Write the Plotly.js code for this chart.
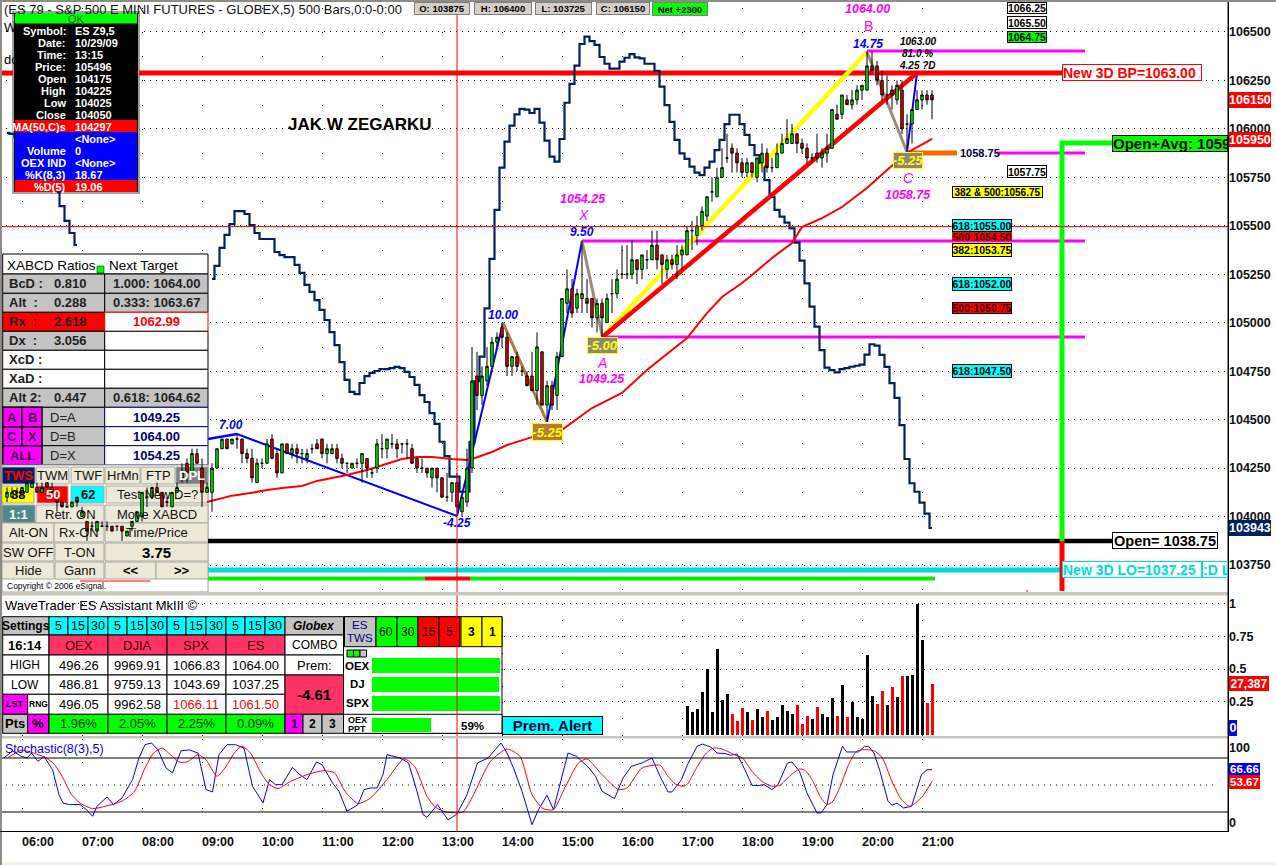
<!DOCTYPE html>
<html><head><meta charset="utf-8">
<script src="https://cdn.plot.ly/plotly-3.0.1.min.js"></script>
<style>html,body{margin:0;padding:0;background:#fff;overflow:hidden}#c{width:1276px;height:865px}</style>
</head><body><div id="c"></div>
<script>
// ---------- data: bar number 0 = 06:00, one bar = 5 minutes ----------
const firstCandleBar=-3;
const candleOpen=[104100,104100,104125,104125,104125,104150,104150,104125,104175,104150,
104100,104075,104050,104050,104100,104000,103975,103950,103925,103950,
103950,103950,103950,103950,103900,103950,103975,104000,104100,104100,
104150,104125,104075,104050,104125,104200,104275,104225,104325,104250,
104125,104125,104250,104350,104400,104375,104400,104400,104325,104300,
104175,104275,104275,104400,104325,104225,104375,104325,104350,104325,
104300,104350,104375,104400,104325,104325,104350,104300,104275,104250,
104275,104275,104300,104225,104250,104350,104350,104375,104375,104375,
104375,104350,104300,104250,104250,104200,104250,104200,104100,104125,
104175,104025,104075,104250,104725,104625,104700,104775,104900,104975,
104925,104775,104825,104750,104725,104725,104650,104850,104575,104675,
104625,104825,105100,105175,105075,105125,105125,105125,105025,105100,
105000,105150,105150,105250,105250,105250,105325,105275,105325,105325,
105400,105350,105275,105325,105300,105350,105350,105475,105450,105500,
105550,105675,105650,105750,105850,105900,105875,105825,105775,105825,
105750,105825,105875,105800,105800,105875,105925,105925,105975,105925,
105900,105850,105875,105850,105875,105900,106075,106075,106150,106125,
106150,106200,106200,106325,106325,106250,106175,106200,106150,106200,
106025,106025,106100,106150,106175,106175];
const candleHigh=[104150,104150,104150,104150,104175,104175,104175,104175,104175,104175,
104100,104075,104075,104075,104100,104050,103975,103975,103975,103975,
103975,103950,103950,103950,103925,103975,104025,104125,104150,104150,
104175,104125,104100,104125,104175,104275,104300,104350,104350,104300,
104175,104275,104350,104400,104400,104400,104425,104400,104350,104350,
104300,104300,104400,104425,104350,104375,104375,104375,104375,104350,
104350,104375,104400,104400,104375,104375,104375,104325,104275,104275,
104300,104325,104300,104250,104400,104425,104400,104425,104400,104375,
104400,104375,104300,104300,104250,104250,104250,104200,104225,104175,
104225,104100,104350,104875,104850,104775,104875,104925,104950,105000,
104950,104825,104850,104775,104750,104850,104950,104850,104700,104700,
104850,105125,105275,105225,105175,105425,105225,105125,105125,105125,
105150,105225,105275,105400,105400,105425,105325,105350,105375,105475,
105475,105350,105350,105350,105400,105400,105500,105525,105550,105600,
105650,105750,105800,105900,105975,105925,105900,105850,105850,105825,
105850,105925,105900,105850,105925,105975,106050,106025,105975,105950,
105925,105875,105975,105900,105975,106100,106125,106175,106175,106200,
106225,106225,106400,106400,106350,106300,106275,106225,106250,106250,
106075,106100,106200,106200,106200,106200];
const candleLow=[104075,104100,104100,104100,104125,104150,104125,104125,104150,104125,
104025,104050,104050,104050,104050,104000,103875,103925,103925,103950,
103925,103925,103925,103875,103900,103925,103975,103975,104050,104100,
104125,104050,104050,104050,104125,104175,104175,104225,104275,104050,
104125,104025,104250,104350,104350,104375,104350,104275,104275,104175,
104175,104250,104275,104300,104200,104225,104325,104300,104275,104275,
104275,104325,104350,104300,104275,104325,104275,104250,104225,104250,
104250,104175,104200,104200,104225,104300,104300,104350,104300,104325,
104300,104275,104225,104225,104200,104150,104125,104100,104075,104075,
104025,104000,104050,104225,104550,104575,104675,104775,104875,104875,
104725,104725,104750,104725,104675,104650,104575,104575,104500,104550,
104550,104825,105050,105025,105050,105050,105050,104975,104950,104925,
105000,105050,105125,105225,105225,105225,105200,105225,105275,105325,
105275,105200,105225,105275,105225,105275,105350,105375,105400,105475,
105525,105625,105650,105750,105825,105775,105775,105750,105750,105750,
105725,105775,105775,105775,105800,105875,105925,105925,105875,105875,
105825,105825,105825,105800,105825,105900,106050,106050,106125,106100,
106125,106150,106200,106300,106225,106150,106125,106100,106125,105975,
105900,105925,106100,106100,106125,106050];
const candleClose=[104125,104125,104125,104150,104175,104175,104125,104150,104150,104125,
104075,104050,104050,104075,104075,104025,103925,103950,103975,103950,
103950,103925,103950,103925,103925,103975,104025,104125,104100,104150,
104125,104050,104075,104125,104150,104225,104225,104325,104275,104125,
104150,104250,104350,104400,104350,104400,104400,104325,104300,104200,
104275,104275,104375,104300,104225,104375,104325,104350,104325,104325,
104325,104350,104350,104325,104350,104350,104300,104275,104275,104275,
104275,104325,104250,104225,104375,104350,104400,104375,104350,104375,
104375,104275,104250,104250,104225,104250,104200,104100,104100,104175,
104050,104100,104250,104700,104625,104725,104775,104900,104925,104925,
104775,104825,104775,104750,104675,104650,104875,104575,104675,104575,
104825,105125,105175,105050,105150,105150,105100,105025,105100,105025,
105125,105150,105225,105250,105250,105325,105275,105350,105325,105400,
105325,105300,105325,105300,105350,105375,105475,105475,105500,105575,
105650,105675,105750,105800,105850,105875,105825,105775,105825,105775,
105850,105875,105800,105800,105875,105925,105950,105975,105925,105900,
105850,105850,105850,105875,105900,106100,106050,106175,106125,106150,
106200,106225,106325,106300,106250,106175,106175,106175,106225,106000,
106025,106100,106150,106175,106150,106150];

const navyStart=-3;
const navyPrice=[105979,105974,105959,null,null,null,null,null,null,null,105674,105602,105526,105463,105401,
null,null,null,null,null,null,null,null,null,null,null,null,null,null,null,null,null,null,null,null,null,null,null,null,null,null,
105226,105293,105386,105453,105509,105576,105576,105561,105504,105463,105432,105432,105432,105365,105349,105339,105339,105298,105257,
105195,105159,105117,105066,105014,104952,104885,104797,104705,104643,104632,104689,104725,104741,104751,104761,104761,104766,104772,104766,
104746,104720,104679,104627,104591,104534,104478,104386,104312,104206,104206,104128,104128,104385,104699,104825,105074,105329,
105582,105800,105934,106017,106075,106103,106099,106082,106103,106032,105939,105857,105831,105948,106135,106232,106326,106438,106476,106453,
106433,106371,106336,106311,106311,106347,106367,106386,106369,106364,106336,106336,106300,106218,106123,106036,105943,105874,105845,105805,
105774,105762,105800,105831,105891,105943,106025,106073,106073,106025,105969,105917,105865,105824,105736,105649,105582,105547,105516,105487,
105413,105320,105203,105083,104980,104859,104768,104756,104744,104761,104766,104773,104778,104784,104835,104889,104882,104834,104772,104688,
104612,104472,104297,104172,104128,104072,104015,103941];

const maBars=[37,40,42,46,49,52,56,59,62,65,69,72,76,79,82,86,89,90,94,97,102,108,114,120,125,130,133,137,140,144,146,150,154,156,160,164,169,173,177,182];
const maPrice=[104075,104096,104108,104123,104137,104147,104158,104184,104199,104214,104240,104266,104297,104307,104307,104297,104292,104297,104333,104369,104410,104447,104560,104638,104756,104859,104921,105050,105133,105205,105246,105334,105411,105494,105540,105597,105695,105788,105876,105948];

const pivotBars=[37.2,43,87,96.2,105,112,116.1,169,177,179];
const pivotPrices=[104400,104426,104003,105000,104488,105422,104926,106397,105881,106288];

const volStart=133;
const volumeValues=[.214,.171,.191,.321,.497,.171,.65,.26,.306,.153,.1,.2,.171,.107,.191,.13,.176,.107,.13,.222,.176,.16,.222,.077,.138,.122,.207,.153,.13,.276,.145,.375,.13,.245,.13,.122,.605,.291,.23,.329,.222,.36,.283,.444,.444,.452,1,.72,.24,.383];
const volumeSides=['k','k','k','k','k','k','k','k','k','r','r','r','k','r','k','k','r','k','k','k','k','k','r','r','r','k','r','k','k','k','r','k','r','k','k','k','k','k','r','r','k','r','k','r','k','k','k','k','r','r'];

const kBars=[-3.6,-1.9,-.2,1,1.9,3.2,4.4,6.1,7.4,8.2,9.5,11.6,12.9,14.1,15,17,18.3,20,22.1,23.4,24.6,25.9,27.2,28.8,30.1,31.8,33.5,35.2,36.8,38.1,39.4,41,42.7,44.4,46.1,48.2,49.5,50.7,52,54.1,55.4,57,58.9,60,62.1,63.4,65,67.2,68.4,69.7,71,72.2,73,75.6,77.3,79,80.2,81,83.1,85.2,87,89,91.1,93.2,95.8,97,98.3,100,102,103.3,105,106.3,109.2,110.9,113.4,114.7,116,118.5,120.2,121.9,124,126,127.6,129.2,130,131.9,133.1,135,136.1,137.8,139,140.6,141.7,143,144.1,146,147.2,148.4,150,151.2,153.1,154,155.5,157,159,159.8,161,162.2,164.1,164.9,167.3,168.5,169.3,170.4,171.6,173.2,174,175,176.3,177.9,179.9,181,182];
const kValues=[80,88,81.9,80,85.5,76.3,81.9,67,39.3,30,28.2,28.2,22.6,15.3,26.3,36.7,28.2,35.6,56,80,94.8,96.7,89,68.9,63.4,88,89,85.5,44.9,42.3,83.7,94.8,94.8,91,48.6,30,56,50.4,50.4,69.6,62.2,56,75.6,72.6,52.3,43,20.8,28.2,44.9,46.7,46.7,61.5,83.7,80,74.5,43,17.1,14.1,28.2,11.2,17.8,39.3,74.5,80,96.7,85.5,68.9,43,6,22.6,38.6,22.6,85.5,81.9,68.9,59.7,43,34.9,57.8,70.8,74.5,80,59.7,42.3,42.3,56,72.6,93,95.5,92,85.5,85,83,84.4,72.6,49.7,49.3,50.4,44.9,50.4,74.5,75.6,65.2,41,19,19,28.2,61.5,93,86.7,86.7,93,93,85.5,65.2,32,27.5,30,24.5,26.3,61.5,67,67];
const dBars=[-2.7,-.2,2.3,4.9,6.5,8.2,9.9,11.6,14.1,16.6,20,22.5,24.6,26.3,28,29.7,31.4,33,35.2,36.8,39,40.6,42.7,44,45.7,47.8,49.5,51.2,53.7,57,60.4,62.5,64.6,67.2,69.7,73,76.4,78.5,81,82.7,84.8,88.2,90.3,93.7,97,99.6,102,104.2,106.3,108.4,111.3,113,116,119.3,121,124,127.6,129.2,130.7,132.2,133.1,134.7,136.6,138.2,139.8,142.5,144.1,146,148,150,151.6,153.5,155.5,156.7,158.2,159.8,161,162.2,163.8,165.3,166.9,168.5,170.4,172,174,175.9,177.5,178.7,180.2,182];
const dValues=[80.7,88.5,85.5,80,72.6,57.8,39.3,30,23.8,26.3,32,43,68.9,85.5,91,83.7,75.6,75.6,83.7,78,59.7,68.9,87.4,93,85.5,63.4,50.4,46,54,61.5,66,63.4,43,29.3,35.6,56,79,70.8,37.4,25.2,20,20,39.3,76.3,90,81.9,39.3,23.8,22.6,44.9,74.5,79,61.5,44.9,46.7,68.9,71.9,59.7,51,48.6,51,67,83.7,91,90.4,83.7,80,65.2,54,48.6,49.7,59.7,67.8,66,54,35.6,28.2,32,50.4,72.6,87.4,89.3,88,80.7,54,33.7,26.3,30,38,54];

const hourBars=[0,12,24,36,48,60,72,84,96,108,120,132,144,156,168,180];
const hourLabels=['06:00','07:00','08:00','09:00','10:00','11:00','12:00','13:00','14:00','15:00','16:00','17:00','18:00','19:00','20:00','21:00'];
const priceTicks=[103750,104000,104250,104500,104750,105000,105250,105500,105750,106000,106250,106500];

const cursorBar=87, cursorPrice=105496;
const bpLevel=106288, openLevel=103874, lo3dLevel=103724, openAvgLevel=105927, stripLevel=103680;
const magentaStart=[112,116.1,169,195], magentaLevels=[105422,104926,106402,105876], magentaEnd=212.6;
const orangeBars=[177,187];

const okLabels=['Symbol:','Date:','Time:','Price:','Open','High','Low','Close','MA(50,C)s','','Volume','OEX IND','%K(8,3)','%D(5)'];
const okValues=['ES Z9,5','10/29/09','13:15','105496','104175','104225','104025','104050','104297','<None>','0','<None>','18.67','19.06'];

const waveHeads=['OEX','DJIA','SPX','ES'];
const waveHigh=['496.26','9969.91','1066.83','1064.00'];
const waveLow=['486.81','9759.13','1043.69','1037.25'];
const waveLast=['496.05','9962.58','1066.11','1061.50'];
const wavePct=['1.96%','2.05%','2.25%','0.09%'];
const xabcdRows=[['BcD :','0.810','1.000: 1064.00'],['Alt  :','0.288','0.333: 1063.67'],['Rx  :','2.618','1062.99'],['Dx  :','3.056',''],['XcD :','',''],['XaD :','',''],['Alt 2:','0.447','0.618: 1064.62']];
const xabcdTargets=[['D=A','1049.25'],['D=B','1064.00'],['D=X','1054.25']];

// ---------- page geometry helpers (chrome only) ----------
const PW=1228,PH=865;
const barAt=px=>(px-22)/5;
const priceAt=py=>106665-py*5.159;
const volAt=py=>(734.5-py)/131;
const stochAt=py=>(830-py)/0.9;
const dom=(a,b)=>[1-b/PH,1-a/PH];
const S=[],A=[];
const SANS='Liberation Sans',NARROW='Liberation Sans';
function cell(x0,y0,x1,y1,fill,line,lw){
  const main=y1<=592;
  S.push({type:'rect',layer:'between',xref:main?'x':'x2',yref:main?'y':'y2',x0:barAt(x0),x1:barAt(x1),
    y0:main?priceAt(y0):volAt(y0),y1:main?priceAt(y1):volAt(y1),
    fillcolor:fill,line:{color:line||fill,width:lw===undefined?1:lw}});
}
function T(px,py,text,o){o=o||{};
  let t=text; if(o.b)t='<b>'+t+'</b>'; if(o.i)t='<i>'+t+'</i>';
  A.push({xref:'paper',yref:'paper',x:px/PW,y:1-py/PH,xanchor:o.a||'center',yanchor:'middle',text:t,showarrow:false,
    font:{family:o.f||SANS,size:o.s||12,color:o.c||'#000'}});
}
function B(x0,y0,x1,y1,text,o){o=o||{};const bw=o.bw===undefined?1:o.bw;
  let t=text; if(o.b)t='<b>'+t+'</b>'; if(o.i)t='<i>'+t+'</i>';
  A.push({xref:'paper',yref:'paper',x:x0/PW,y:1-y0/PH,xanchor:'left',yanchor:'top',width:x1-x0-2*bw,height:y1-y0-2*bw,
    text:t,showarrow:false,align:o.al||'center',valign:'middle',borderpad:0,borderwidth:bw,bordercolor:o.bc||'#000',bgcolor:o.bg||'#fff',
    font:{family:o.f||SANS,size:o.s||11,color:o.c||'#000'}});
}
function chrome(x0,y0,x1,y1,fill){S.push({type:'rect',layer:'above',xref:'paper',yref:'paper',x0:x0/PW,x1:x1/PW,y0:1-y0/PH,y1:1-y1/PH,fillcolor:fill,line:{width:0}});}

// ---------- traces ----------
const legColors=['#0000ff','#0000ff','#0000ff','#b5793e','#0000ff','#9c8b78','#ffff00','#9c8b78','#0000ff'];
const legWidths=[2.5,2,2,3,2,3,4.5,3,2];
function seg(xs,ys,color,width){return {type:'scatter',mode:'lines',x:xs,y:ys,xaxis:'x',yaxis:'y',line:{color:color,width:width},hoverinfo:'skip',showlegend:false};}
const traces=[];
traces.push(seg([barAt(0),-1.8,null,23.4,208],[bpLevel,bpLevel,null,bpLevel,bpLevel],'#ff0000',5));
magentaStart.forEach((b,i)=>traces.push(seg([b,magentaEnd],[magentaLevels[i],magentaLevels[i]],'#ff00ff',3)));
traces.push(seg(orangeBars,[magentaLevels[3],magentaLevels[3]],'#ff6600',5));
traces.push(seg([37.2,218],[openLevel,openLevel],'#000',4.5));
traces.push(seg([37.2,208],[lo3dLevel,lo3dLevel],'#00dcdc',5));
traces.push(seg([37.2,80.6],[stripLevel,stripLevel],'#00f000',4));
traces.push(seg([80.6,89.6],[stripLevel,stripLevel],'#ff0000',4));
traces.push(seg([89.6,182.6],[stripLevel,stripLevel],'#00f000',4));
traces.push(seg([208,208],[openLevel,priceAt(591)],'#ff0000',5));
traces.push(seg([208,208,218],[openLevel,openAvgLevel,openAvgLevel],'#00ff00',5));
traces.push(seg(navyPrice.map((_,i)=>navyStart+i),navyPrice,'#002060',2.2));
traces[traces.length-1].line.shape='hvh';
for(let i=0;i<legColors.length;i++)traces.push(seg([pivotBars[i],pivotBars[i+1]],[pivotPrices[i],pivotPrices[i+1]],legColors[i],legWidths[i]));
traces.push(seg([pivotBars[6],pivotBars[9]],[pivotPrices[6],pivotPrices[9]],'#ff0000',4.5));
traces.push(seg(maBars,maPrice,'#ff0000',2));
traces.push({type:'candlestick',xaxis:'x4',yaxis:'y4',x:candleOpen.map((_,i)=>firstCandleBar+i),open:candleOpen,high:candleHigh,low:candleLow,close:candleClose,
  increasing:{line:{color:'#000',width:1},fillcolor:'#00ff00'},decreasing:{line:{color:'#000',width:1},fillcolor:'#ff0000'},whiskerwidth:0,showlegend:false,hoverinfo:'skip'});
traces.push({type:'bar',xaxis:'x2',yaxis:'y2',x:volumeValues.map((_,i)=>volStart+i),y:volumeValues,width:0.6,marker:{color:volumeSides.map(s=>s==='k'?'#000':'#ff0000'),line:{width:0}},showlegend:false,hoverinfo:'skip'});
traces.push({type:'scatter',mode:'lines',xaxis:'x3',yaxis:'y3',x:kBars,y:kValues,line:{color:'#0000ff',width:1},showlegend:false,hoverinfo:'skip'});
traces.push({type:'scatter',mode:'lines',xaxis:'x3',yaxis:'y3',x:dBars,y:dValues,line:{color:'#ff0000',width:1,shape:'spline',smoothing:.6},showlegend:false,hoverinfo:'skip'});

// ---------- OK box ----------
cell(13,12,139,193,'#000','#a0a0a0',2);
cell(15,13,137,23.5,'#00ff00','#00ff00',0);
cell(15,120,137,132,'#ff0000','#ff0000',0);
cell(15,132,137,180,'#0000ff','#0000ff',0);
cell(15,180,137,192,'#ff0000','#ff0000',0);
T(76,18.5,'OK',{s:11,c:'#006000'});
okLabels.forEach((l,i)=>{const y=30.7+12*i;
  if(l)T(68,y,l,{a:'right',s:11,b:1,c:'#fff'});
  T(73,y,okValues[i].replace('<','&lt;').replace('>','&gt;'),{a:'left',s:11,b:1,c:'#fff'});});

// ---------- XABCD table ----------
const rowTop=[274,293.3,312.3,331.3,350.3,369.3,388.3,407.3,426.7,445.7,465];
cell(2.7,254,208,274,'#fff','#000',1);
T(5,266,'XABCD Ratios',{a:'left',s:13.5,c:'#000'});
cell(97,266,104,273,'#00ff00','#000',.5);
T(107,266,'Next Target',{a:'left',s:13.5,c:'#000'});
const GR='#c3c3c3';
const leftFill=[GR,GR,'#ff0000',GR,'#fff','#fff',GR],rightFill=[GR,GR,'#fff','#fff','#fff','#fff',GR];
xabcdRows.forEach((r,i)=>{const y0=rowTop[i],y1=rowTop[i+1],m=(y0+y1)/2;
  cell(2.7,y0,104.7,y1,leftFill[i],'#000',1);
  cell(104.7,y0,208,y1,rightFill[i],i===2?'#ff0000':'#000',1);
  T(7,m,r[0],{a:'left',s:13,b:1,c:'#222'});
  if(r[1])T(70,m,r[1],{s:13,b:1,c:'#222'});
  if(r[2])T(156,m,r[2],{s:13,b:1,c:i===2?'#ff0000':'#222'});
});
xabcdTargets.forEach((r,i)=>{const y0=rowTop[7+i],y1=rowTop[8+i],m=(y0+y1)/2;
  cell(2.7,y0,104.7,y1,GR,'#000',1);
  cell(104.7,y0,208,y1,'#fff','#000080',1);
  T(48,m,r[0],{a:'left',s:13,c:'#222'});
  T(156,m,r[1],{s:13,b:1,c:'#000080'});
});
[['A',2.7,22],['B',22,42],['C',2.7,22],['X',22,42],['ALL',2.7,42]].forEach((c,i)=>{const row=i<2?0:i<4?1:2;
  const y0=rowTop[7+row],y1=rowTop[8+row];
  cell(c[1],y0,c[2],y1,'#ff00ff','#000',1.5);
  T((c[1]+c[2])/2,(y0+y1)/2,c[0],{s:13,c:'#400040',b:1});
});

// ---------- buttons ----------
const btnRows=[[467,484],[486,503],[505,523],[523,542],[543,561],[562,579]];
const BT='#ece9d8';
const btnSpec=[
 [0,2,35,'TWS','#002060','#ff0000'],[0,36,69,'TWM'],[0,71,104,'TWF'],[0,105,140,'HrMn'],[0,141,175,'FTP'],[0,176,208,'DPL','#808080','#fff'],
 [1,2,34,'38','#ffff00','#000'],[1,37,68,'50','#ff0000','#fff'],[1,71,104,'62','#00ffff','#000'],[1,106,208,'Test New D=?'],
 [2,2,35,'1:1','#4f8a8b','#fff'],[2,36,104,'Retr. ON'],[2,105,208,'Move XABCD'],
 [3,2,54,'Alt-ON'],[3,54,104,'Rx-ON'],[3,105,208,'Time/Price'],
 [4,2,54,'SW OFF'],[4,55,104,'T-ON'],[4,105,208,'3.75',null,'#000',1],
 [5,2,54,'Hide'],[5,55,104,'Gann'],[5,105,156,'&lt;&lt;',null,'#000',1],[5,156,208,'&gt;&gt;',null,'#000',1]];
cell(2,465,208,592,'#fff','#a0a0a0',1);
btnSpec.forEach(b=>{const r=btnRows[b[0]];
  cell(b[1],r[0],b[2],r[1],b[4]||BT,'#a8a8a0',1);
  T((b[1]+b[2])/2,(r[0]+r[1])/2,b[3],{s:b[3]==='3.75'?15:13,c:b[5]||'#111',b:b[6]||b[4]?1:0});
});
T(5,586,'Copyright © 2006 eSignal.',{a:'left',s:8.5});

// ---------- WaveTrader panel ----------
T(3,605,'WaveTrader ES Assistant MkIII ©',{a:'left',s:13,b:0});
const CY='#00ffff',PK='#ff3366',LM='#00ff00',MG='#ff00ff',YL='#ffff00',RD='#ff0000';
const wr=[616.7,635,655,675,694.3,714.3,733.3];
const groupX=[49,108,167,226,285];
const tfX=[49,68,88,108,127,147,167,186,206,226,245,265,285];
const tfLab=['5','15','30'];
cell(2.7,wr[0],49,wr[1],GR,'#000',1); T(26,(wr[0]+wr[1])/2,'Settings',{s:12,b:1});
for(let i=0;i<12;i++){cell(tfX[i],wr[0],tfX[i+1],wr[1],CY,'#000',1);T((tfX[i]+tfX[i+1])/2,(wr[0]+wr[1])/2,tfLab[i%3],{s:12.5});}
const leftLab=['16:14','HIGH','LOW'];
[1,2,3].forEach((r,i)=>{cell(2.7,wr[r],49,wr[r+1],'#fff','#000',1);T(25,(wr[r]+wr[r+1])/2,leftLab[i],{s:i?12:13,b:i?0:1});});
cell(2.7,wr[4],27.7,wr[5],MG,'#000',1);T(15,(wr[4]+wr[5])/2,'LST',{s:9,b:1});
cell(27.7,wr[4],49,wr[5],'#fff','#000',1);T(38,(wr[4]+wr[5])/2,'RNG',{s:8.5,b:1});
cell(2.7,wr[5],27.7,wr[6],GR,'#000',1);T(15,(wr[5]+wr[6])/2,'Pts',{s:13,b:1});
cell(27.7,wr[5],49,wr[6],MG,'#000',1);T(38,(wr[5]+wr[6])/2,'%',{s:13,b:1});
waveHeads.forEach((h,i)=>{const x0=groupX[i],x1=groupX[i+1],mx=(x0+x1)/2,my=r=>(wr[r]+wr[r+1])/2;
  cell(x0,wr[1],x1,wr[2],PK,'#000',1);T(mx,my(1),h,{s:13,c:'#400'});
  [2,3,4].forEach(r=>cell(x0,wr[r],x1,wr[r+1],'#fff','#000',1));
  T(mx,my(2),waveHigh[i],{s:13});T(mx,my(3),waveLow[i],{s:13});
  T(mx,my(4),waveLast[i],{s:13,c:i>1?'#ff0000':'#000'});
  cell(x0,wr[5],x1,wr[6],LM,'#000',1);T(mx,my(5),wavePct[i],{s:13,c:'#003000'});
});
cell(285,wr[0],343.5,wr[1],GR,'#000',1);T(314,(wr[0]+wr[1])/2,'Globex',{s:12,i:1,b:1});
cell(285,wr[1],343.5,wr[2],'#fff','#000',1);T(314,(wr[1]+wr[2])/2,'COMBO',{s:12});
cell(285,wr[2],343.5,wr[3],'#fff','#000',1);T(314,(wr[2]+wr[3])/2,'Prem:',{s:13});
cell(285,wr[3],343.5,wr[5],PK,'#000',1);T(314,(wr[3]+wr[5])/2,'-4.61',{s:15,b:1});
[[285,303,'1',MG],[303,322,'2',GR],[322,343.5,'3',GR]].forEach(c=>{cell(c[0],wr[5],c[1],wr[6],c[3],'#000',1);T((c[0]+c[1])/2,(wr[5]+wr[6])/2,c[2],{s:12,b:1});});
cell(343.5,616.7,502,733.3,'#fff','#000',1);
cell(344.5,616.7,376,646.7,GR,'#000',1);T(360,625,'ES',{s:11.5,c:'#000080'});T(360,638,'TWS',{s:11.5,c:'#000080'});
[[376,397,'60',LM],[397,418,'30',LM],[418,439,'15',RD],[439,460,'5',RD],[461,482,'3',YL],[482,502,'1',YL]].forEach(c=>{cell(c[0],616.7,c[1],646.7,c[3],'#000',1);T((c[0]+c[1])/2,631.7,c[2],{s:12,b:c[3]===YL?1:0});});
[[347,353.5,LM],[353.5,360,LM],[360,366.5,GR]].forEach(c=>cell(c[0],650,c[1],657,c[2],'#000',1));
T(357,665.7,'OEX',{s:11.5,b:1});T(357,684,'DJ',{s:11.5,b:1});T(357,703,'SPX',{s:11.5,b:1});
cell(372,658,500,673,LM,LM,0);cell(372,677,499,692,LM,LM,0);cell(372,696,500,711,LM,LM,0);
cell(343.5,714.3,502,733.3,'#fff','#000',1);
T(357,720,'OEX',{s:9,b:1});T(357,729,'PPT',{s:9,b:1});
cell(372,718,431,732,LM,LM,0);T(486,726,'59%',{a:'right',s:11.5,b:1});
B(502,716,603,735,'Prem. Alert',{bg:'#00ffff',s:15,b:1,bc:'#000',c:'#000040'});

// ---------- chart labels ----------
T(2,9,'(ES 79 - S&amp;P 500 E MINI FUTURES - GLOBEX,5) 500 Bars,0:0-0:00',{a:'left',s:13,c:'#111'});
T(2,27,'W',{a:'left',s:13});T(2,59,'dc',{a:'left',s:13});
[[414,470,'O: 103875'],[474,532,'H: 106400'],[535,592,'L: 103725'],[596,650,'C: 106150']].forEach(b=>B(b[0],2,b[1],15,b[2],{bg:'#d4d0c8',bc:'#808080',s:9.5,b:1}));
B(652,2,708,16,'Net +2300',{bg:'#00ff00',bc:'#808080',s:9.5,b:1});
T(360,125,'JAK W ZEGARKU',{s:17,b:1});
const BLT={s:12,c:'#0000ff',i:1,b:1};
T(867,9,'1064.00',{s:12.5,c:'#ff00ff',i:1,b:1});T(868,26,'B',{s:14,c:'#ff00ff'});T(868,44,'14.75',BLT);
T(918,42,'1063.00',{s:10,i:1,b:1});T(917,53,'81.0 %',{s:10,i:1,b:1});T(917,65,'4.25 ?D',{s:10,i:1,b:1});
B(893,152,923,169,'-5.25',{bg:'#8f8578',bc:'#ffff00',c:'#ffff00',s:13,i:1,b:1});
T(908,178,'C',{s:14,c:'#ff00ff',i:1});T(908,195,'1058.75',{s:12.5,c:'#ff00ff',i:1,b:1});
T(583,199,'1054.25',{s:12.5,c:'#ff00ff',i:1,b:1});T(583,215,'X',{s:14,c:'#ff00ff',i:1});T(582,232,'9.50',BLT);
B(587,337,618,354,'-5.00',{bg:'#8f8578',bc:'#ffff00',c:'#ffff00',s:13,i:1,b:1});
T(602,363,'A',{s:14,c:'#ff00ff',i:1});T(602,379,'1049.25',{s:12.5,c:'#ff00ff',i:1,b:1});
T(503,315,'10.00',BLT);
B(532,423,563,441,'-5.25',{bg:'#b5793e',bc:'#ffff00',c:'#ffff00',s:13,i:1,b:1});
T(231,425,'7.00',BLT);T(457,523,'-4.25',BLT);

const lvl={s:10.5,b:1,f:SANS};
B(1007,2,1047,14,'1066.25',lvl);B(1007,16,1047,29,'1065.50',lvl);B(1007,31,1047,43,'1064.75',{...lvl,bg:'#00ff00'});
B(1062,64,1202,81,'New 3D BP=1063.00',{bg:'#fff',bc:'#ff0000',c:'#ff0000',s:14,b:1,al:'left'});
T(958,153,'1058.75',{a:'left',s:11,b:1,c:'#000040'});
B(1007,165,1047,178,'1057.75',lvl);
B(952,186,1043,198,'382 &amp; 500:1056.75',{...lvl,bg:'#ffff00',s:10});
B(952,219,1012,232,'618:1055.00',{...lvl,bg:'#00ffff'});
B(952,232,1012,241,'500:1054.50',{...lvl,bg:'#ff0000',bw:0,c:'#400'});
B(952,243,1012,257,'382:1053.75',{...lvl,bg:'#ffff00'});
B(952,277,1012,291,'618:1052.00',{...lvl,bg:'#00ffff'});
B(952,302,1012,314,'500:1050.75',{...lvl,bg:'#ff0000',c:'#400'});
B(952,364,1012,378,'618:1047.50',{...lvl,bg:'#00ffff'});
B(1112,135,1228,152,'Open+Avg: 1059',{bg:'#00ff00',s:15,b:1,al:'left'});
B(1112,532,1218,549,'Open= 1038.75',{bg:'#fff',s:14.5,b:1});
B(1062,561,1202,578,'New 3D LO=1037.25',{bg:'#fff',bc:'#00dcdc',c:'#00dcdc',s:14,b:1,al:'left'});
B(1202,561,1228,578,':D L',{bg:'#fff',bc:'#00dcdc',c:'#00dcdc',s:14,b:1,al:'left'});
const tag={f:NARROW,s:12.5,b:1,bw:0,c:'#fff'};
B(1229,92,1271,108,'106150',{...tag,bg:'#ff0000'});
B(1229,132,1271,147,'105950',{...tag,bg:'#ff0000'});
B(1229,520,1271,536,'103943',{...tag,bg:'#002060'});
B(1229,676,1269,691,'27,387',{...tag,bg:'#ff0000',s:12});
B(1229,720,1237,736,'0',{...tag,bg:'#0000ff'});
B(1229,763,1260,775,'66.66',{...tag,bg:'#0000ff',s:11.5});
B(1229,775,1260,789,'53.67',{...tag,bg:'#ff0000',s:11.5});
T(3,749,'Stochastic(8(3),5)',{a:'left',s:12.5,c:'#0000ff'});

// ---------- stochastic guide lines, cursor, frames ----------
[80,20].forEach(v=>S.push({type:'line',layer:'above',xref:'x3',yref:'y3',x0:barAt(0),x1:barAt(1228),y0:v,y1:v,line:{color:'#000',width:1}}));
S.push({type:'line',layer:'between',xref:'x3',yref:'y3',x0:barAt(0),x1:barAt(1218),y0:50,y1:50,line:{color:'#000',width:1,dash:'1px,5px'}});
S.push({type:'line',layer:'above',xref:'x',yref:'y',x0:barAt(0),x1:barAt(1228),y0:cursorPrice,y1:cursorPrice,line:{color:'#ff0000',width:1}});
S.push({type:'line',layer:'above',xref:'x',yref:'paper',x0:cursorBar,x1:cursorBar,y0:1-3/PH,y1:1-831/PH,line:{color:'#ff0000',width:1}});
S.push({type:'line',layer:'above',xref:'x',yref:'y',x0:201,x1:201,y0:priceAt(590),y1:priceAt(592.5),line:{color:'#ff0000',width:1}});
S.push({type:'line',layer:'above',xref:'x',yref:'y',x0:barAt(80),x1:barAt(150),y0:priceAt(581),y1:priceAt(581),line:{color:'#ff0000',width:1}});
chrome(0,592,1228,595.5,'#c8c5bc');chrome(0,736,1228,738.5,'#c8c5bc');
chrome(0,0,1276,2,'#8c8c84');chrome(0,0,2,865,'#8c8c84');
chrome(0,831,1228,832,'#000');chrome(1227.5,2,1229,832,'#000');
chrome(2,862,1276,865,'#f5f0e6');

// ---------- axes ----------
const XR=[barAt(0),barAt(1228)];
const yFont={family:NARROW,size:12.5,color:'#111',weight:700};
const xBase={range:XR,domain:[0,1],zeroline:false,tickmode:'array',tickvals:hourBars,ticktext:hourLabels,ticklen:0,showline:false,gridcolor:'#000',gridwidth:1,showgrid:true,fixedrange:true,rangeslider:{visible:false}};
const layout={width:1276,height:865,margin:{l:0,r:48,t:0,b:0,pad:0},paper_bgcolor:'#fff',plot_bgcolor:'#fff',showlegend:false,barmode:'overlay',bargap:0,
 xaxis:{...xBase,anchor:'y',showticklabels:false,griddash:'0px,4.8px,1px,18.4px'},
 xaxis2:{...xBase,anchor:'y2',showticklabels:false,griddash:'0px,7.5px,1px,7.9px'},
 xaxis3:{...xBase,anchor:'y3',showticklabels:true,griddash:'0px,0px,1px,22px',tickfont:{family:NARROW,size:12.5,color:'#111',weight:700},ticklabelshift:16,ticklabelstandoff:1},
 xaxis4:{...xBase,anchor:'y4',overlaying:'x',showticklabels:false,showgrid:false,visible:false},
 yaxis:{domain:dom(3,592),range:[priceAt(592),priceAt(3)],side:'right',anchor:'x',tickmode:'array',tickvals:priceTicks,ticktext:priceTicks.map(String),tickfont:yFont,ticklen:0,gridcolor:'#000',griddash:'1px,5px',zeroline:false,fixedrange:true},
 yaxis2:{domain:dom(596,736),range:[volAt(736),volAt(596)],side:'right',anchor:'x2',tickmode:'array',tickvals:[.25,.5,.75,1],ticktext:['0.25','0.5','0.75','1'],tickfont:yFont,ticklen:0,gridcolor:'#000',griddash:'1px,5px',zeroline:false,fixedrange:true},
 yaxis3:{domain:dom(739,831),range:[stochAt(831),stochAt(739)],side:'right',anchor:'x3',tickmode:'array',tickvals:[91.1,7.8],ticktext:['100','0'],tickfont:yFont,ticklen:0,showgrid:false,zeroline:false,fixedrange:true},
 yaxis4:{domain:dom(3,592),range:[priceAt(592),priceAt(3)],anchor:'x4',overlaying:'y',side:'right',visible:false,fixedrange:true},
 shapes:S,annotations:A};
Plotly.newPlot('c',traces,layout,{staticPlot:true,displayModeBar:false});
</script></body></html>
